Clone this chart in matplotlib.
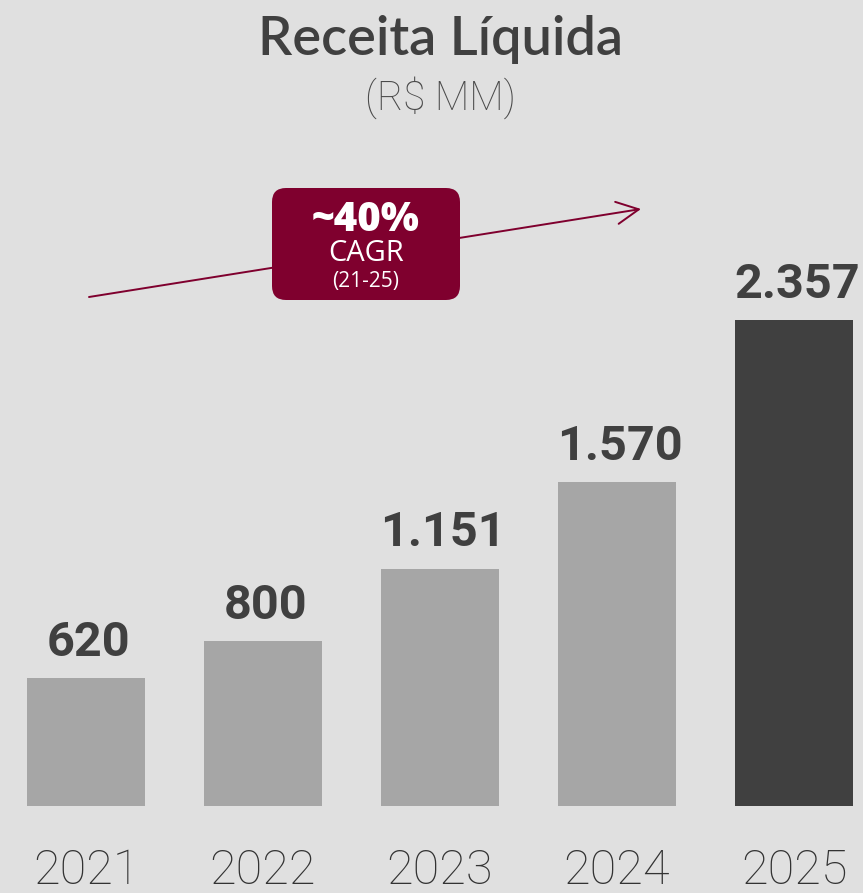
import matplotlib
matplotlib.use("Agg")
import matplotlib.pyplot as plt
from matplotlib.patches import FancyBboxPatch

years = ["2021", "2022", "2023", "2024", "2025"]
values = [620, 800, 1151, 1570, 2357]
value_labels = ["620", "800", "1.151", "1.570", "2.357"]
title = "Receita Líquida"
subtitle = "(R$ MM)"
cagr_main = "~40%"
cagr_sub = "CAGR"
cagr_period = "(21-25)"

BG = "#e0e0e0"
BAR = "#a6a6a6"
BAR_LAST = "#404040"
TXT = "#404040"
MAROON = "#7f002e"

W, H = 863, 893
fig = plt.figure(figsize=(W / 100, H / 100), dpi=100, facecolor=BG)

# main bar axes: bar centers at pixel 86 + 177*i, baseline at pixel y=806
px_per_unit = 486 / 2357
ax = fig.add_axes([0, (H - 806) / H, 1, 806 / H])
ax.set_facecolor(BG)
ax.set_xlim(-86 / 177, (W - 86) / 177)
ax.set_ylim(0, 806 / px_per_unit)
for s in ax.spines.values():
    s.set_visible(False)
ax.set_xticks([])
ax.set_yticks([])

colors = [BAR] * (len(values) - 1) + [BAR_LAST]
x = list(range(len(values)))
bars = ax.bar(x, values, width=118 / 177, color=colors)
for xi, v, lab in zip(x, values, value_labels):
    ax.annotate(lab, (xi, v), xytext=(2, 16), textcoords="offset points",
                ha="center", va="baseline", fontsize=35, fontweight="bold",
                family="Roboto", color=TXT)

for xi, yr in zip(x, years):
    ax.annotate(yr, (xi, 0), xytext=(0, -56), textcoords="offset points",
                ha="center", va="baseline", fontsize=35, fontweight="light",
                family="Roboto", color="#333333")

# overlay axes in pixel coordinates for title & CAGR decoration
ov = fig.add_axes([0, 0, 1, 1], facecolor="none")
ov.set_xlim(0, W)
ov.set_ylim(H, 0)
ov.axis("off")

ov.text(440, 55, title, ha="center", va="baseline", fontsize=39,
        fontweight="semibold", family="Lato", color=TXT)
ov.text(440, 110, subtitle, ha="center", va="baseline", fontsize=29,
        fontweight="light", family="Roboto", color="#4a4a4a")

ov.annotate("", xy=(641, 209), xytext=(89, 297),
            arrowprops=dict(arrowstyle="->,head_length=1.6,head_width=0.8",
                            color=MAROON, lw=1.4, shrinkA=0, shrinkB=0))

box = FancyBboxPatch((272, 188), 188, 112,
                     boxstyle="round,pad=0,rounding_size=14",
                     facecolor=MAROON, edgecolor="none", zorder=3)
ov.add_patch(box)
ov.text(366, 231, cagr_main, ha="center", va="baseline", fontsize=29,
        fontweight="heavy", family="Open Sans", color="white", zorder=4)
ov.text(366, 261, cagr_sub, ha="center", va="baseline", fontsize=21,
        family="Open Sans", color="white", zorder=4)
ov.text(366, 287, cagr_period, ha="center", va="baseline", fontsize=15,
        family="Open Sans", color="white", zorder=4)

fig.savefig("out.png", dpi=100, facecolor=BG)
